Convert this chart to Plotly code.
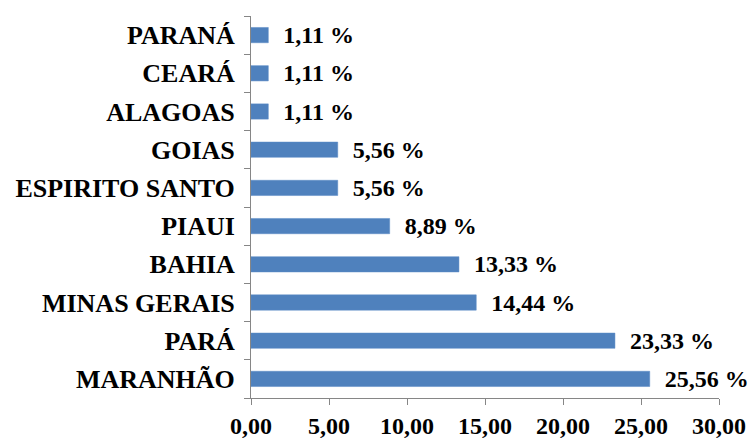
import plotly.graph_objects as go

# States ordered bottom to top, with their share in percent
states = ["MARANHÃO", "PARÁ", "MINAS GERAIS", "BAHIA", "PIAUI",
          "ESPIRITO SANTO", "GOIAS", "ALAGOAS", "CEARÁ", "PARANÁ"]
shares = [25.56, 23.33, 14.44, 13.33, 8.89, 5.56, 5.56, 1.11, 1.11, 1.11]
x_ticks = [0, 5, 10, 15, 20, 25, 30]

labels = ["  " + f"{v:.2f}".replace(".", ",") + " %" for v in shares]

font_family = "Liberation Serif, Times New Roman, serif"

fig = go.Figure(
    go.Bar(
        x=shares,
        y=states,
        orientation="h",
        marker=dict(color="#4f81bd", line=dict(color="#5a8ac6", width=0.5)),
        text=labels,
        textposition="outside",
        constraintext="none",
        cliponaxis=False,
        textfont=dict(family=font_family, size=24, color="#000000", weight="bold"),
    )
)

fig.update_layout(
    width=753,
    height=441,
    margin=dict(l=251, r=34, t=16, b=43),
    paper_bgcolor="white",
    plot_bgcolor="white",
    separators=",.",
    bargap=0.6,
    showlegend=False,
    font=dict(family=font_family, size=24, color="#000000", weight="bold"),
)

fig.update_xaxes(
    range=[0, 30],
    tickvals=x_ticks,
    tickformat=".2f",
    automargin=False,
    showgrid=False,
    zeroline=False,
    showline=True,
    linecolor="#868686",
    linewidth=1,
    ticks="outside",
    ticklen=6,
    tickcolor="#868686",
    tickfont=dict(family=font_family, size=24, color="#000000", weight="bold"),
)

fig.update_yaxes(
    type="category",
    automargin=False,
    showgrid=False,
    zeroline=False,
    showline=True,
    linecolor="#868686",
    linewidth=1,
    ticks="outside",
    tickson="boundaries",
    ticklen=6,
    tickcolor="#868686",
    ticklabelstandoff=10,
    tickfont=dict(family=font_family, size=26, color="#000000", weight="bold"),
)

fig.write_html("out.html")
